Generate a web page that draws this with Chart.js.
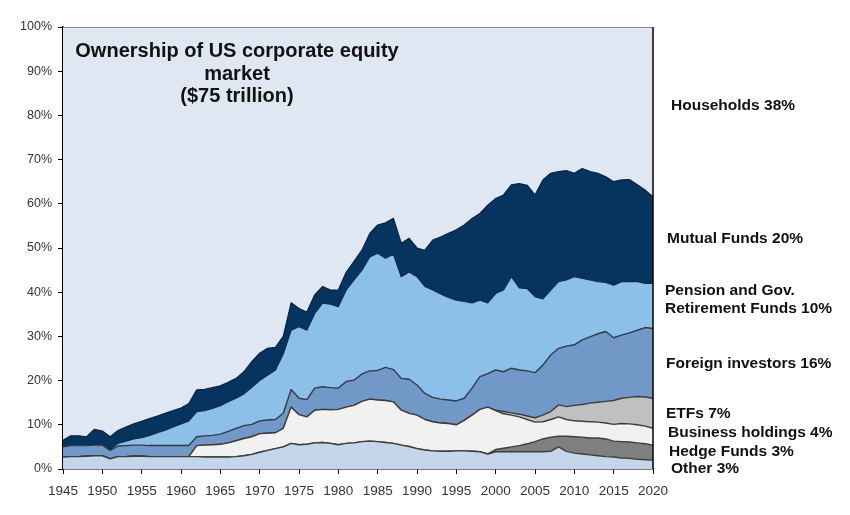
<!DOCTYPE html>
<html>
<head>
<meta charset="utf-8">
<script src="https://cdn.jsdelivr.net/npm/chart.js@4.4.1/dist/chart.umd.min.js"></script>
<style>
  html, body { margin: 0; padding: 0; background: #ffffff; }
  #wrap { width: 850px; height: 515px; position: relative; }
</style>
</head>
<body>
<div id="wrap"><canvas id="c" width="850" height="515"></canvas></div>
<script>
// ---- categories ----
const years = [1945,1946,1947,1948,1949,1950,1951,1952,1953,1954,
  1955,1956,1957,1958,1959,1960,1961,1962,1963,1964,
  1965,1966,1967,1968,1969,1970,1971,1972,1973,1974,
  1975,1976,1977,1978,1979,1980,1981,1982,1983,1984,
  1985,1986,1987,1988,1989,1990,1991,1992,1993,1994,
  1995,1996,1997,1998,1999,2000,2001,2002,2003,2004,
  2005,2006,2007,2008,2009,2010,2011,2012,2013,2014,
  2015,2016,2017,2018,2019,2020];

// ---- series values (% of US corporate equity market), bottom to top ----
const other = [2.7,2.8,2.8,2.9,3.0,3.0,2.3,2.8,2.8,2.9,
  2.9,2.8,2.8,2.8,2.8,2.8,2.8,2.8,2.7,2.7,
  2.7,2.7,2.8,3.0,3.3,3.8,4.2,4.6,5.0,5.8,
  5.5,5.6,5.9,6.0,5.8,5.5,5.8,5.9,6.2,6.3,
  6.2,6.0,5.8,5.4,5.1,4.6,4.3,4.1,4.0,4.0,
  4.1,4.1,4.0,3.9,3.4,3.9,3.9,3.9,3.9,3.9,
  3.9,3.9,4.0,5.0,4.0,3.6,3.4,3.2,3.0,2.8,
  2.7,2.5,2.4,2.2,2.1,2.0];

const hedgeFunds = [0,0,0,0,0,0,0,0,0,0,
  0,0,0,0,0,0,0,0,0,0,
  0,0,0,0,0,0,0,0,0,0,
  0,0,0,0,0,0,0,0,0,0,
  0,0,0,0,0,0,0,0,0,0,
  0,0,0,0,0,0.5,0.8,1.1,1.4,1.8,
  2.3,2.9,3.2,2.4,3.4,3.7,3.8,3.8,4.0,4.0,
  3.6,3.7,3.7,3.7,3.6,3.4];

const businessHoldings = [0,0,0,0,0,0,0,0,0,0,
  0,0,0,0,0,0,0,2.5,2.7,2.8,
  2.9,3.2,3.6,3.9,4.0,4.2,3.9,3.6,4.2,8.2,
  6.8,6.2,7.4,7.5,7.6,8.0,8.2,8.5,9.1,9.5,
  9.4,9.5,9.4,7.9,7.5,7.6,6.9,6.6,6.4,6.3,
  5.9,6.9,8.2,9.6,10.6,8.8,7.8,7.2,6.5,5.5,
  4.4,3.9,4.0,4.4,3.8,3.6,3.6,3.7,3.6,3.6,
  3.8,4.1,4.1,4.1,4.0,3.8];

const etfs = [0,0,0,0,0,0,0,0,0,0,
  0,0,0,0,0,0,0,0,0,0,
  0,0,0,0,0,0,0,0,0,0,
  0,0,0,0,0,0,0,0,0,0,
  0,0,0,0,0,0,0,0,0,0,
  0,0,0,0,0,0.1,0.5,0.5,0.6,0.8,
  1.0,1.5,1.8,2.7,2.9,3.5,3.8,4.2,4.5,4.9,
  5.4,5.7,6.0,6.4,6.6,6.8];

const foreignInvestors = [2.3,2.5,2.5,2.4,2.4,2.4,1.9,2.4,2.5,2.5,
  2.5,2.5,2.5,2.5,2.5,2.5,2.5,2.0,2.1,2.1,
  2.3,2.6,2.8,2.9,2.8,2.9,3.0,3.0,3.4,4.0,
  3.7,3.9,5.0,5.1,5.0,4.8,5.8,5.7,6.2,6.4,
  6.7,7.5,7.3,7.2,7.7,6.8,5.9,5.5,5.4,5.3,
  5.4,5.0,6.1,7.4,7.6,9.1,9.0,10.1,10.0,10.2,
  10.2,11.3,12.8,12.8,13.7,13.7,14.6,15.0,15.5,15.8,
  14.2,14.3,14.6,15.0,15.7,15.8];

const pensionFunds = [0,0,0,0,0,0,0.2,0.6,1.0,1.4,
  1.7,2.3,2.9,3.5,4.2,4.9,5.6,5.7,5.7,6.1,
  6.4,6.7,6.8,7.2,8.4,9.1,10.1,11.2,13.4,13.4,
  16.2,15.7,16.9,18.9,18.9,18.4,20.7,22.7,23.5,25.8,
  26.5,24.7,26.1,23.0,24.3,24.5,24.2,24.3,23.8,23.2,
  22.8,21.9,19.3,17.3,16.0,17.3,18.5,20.7,18.6,18.6,
  17.2,15.0,14.7,15.1,15.0,15.4,13.9,12.9,11.8,11.1,
  11.9,12.1,11.6,11.0,10.0,10.2];

const mutualFunds = [1.5,2.2,2.2,2.0,3.6,3.2,2.9,2.9,3.2,3.4,
  3.7,3.8,3.8,3.8,3.7,3.6,3.9,4.9,4.8,4.7,
  4.5,4.4,4.5,5.0,5.8,6.2,6.1,5.1,4.0,6.2,
  4.1,4.1,4.2,3.8,3.2,3.8,4.0,4.2,4.5,5.3,
  6.4,8.0,8.1,7.6,7.6,6.5,8.2,11.3,12.9,14.5,
  15.9,17.3,19.1,19.6,22.1,21.5,21.5,20.8,23.6,23.4,
  23.0,26.9,26.4,24.9,24.7,23.4,24.9,24.5,24.5,23.9,
  23.4,23.0,23.1,21.9,21.1,19.6];

const households = [93.5,92.5,92.5,92.7,91.0,91.4,92.7,91.3,90.5,89.8,
  89.2,88.6,88.0,87.4,86.8,86.2,85.2,82.1,82.0,81.6,
  81.2,80.4,79.5,78.0,75.7,73.8,72.7,72.5,70.0,62.4,
  63.7,64.5,60.6,58.7,59.5,59.5,55.5,53.0,50.5,46.7,
  44.8,44.3,43.3,48.9,47.8,50.0,50.5,48.2,47.5,46.7,
  45.9,44.8,43.3,42.2,40.3,38.8,38.0,35.7,35.4,35.8,
  38.0,34.6,33.1,32.7,32.5,33.1,32.0,32.7,33.1,33.9,
  35.0,34.6,34.5,35.7,36.9,38.4];

// ---- tick labels / text ----
const yTickValues = [0,10,20,30,40,50,60,70,80,90,100];
const xTickValues = [1945,1950,1955,1960,1965,1970,1975,1980,1985,1990,1995,2000,2005,2010,2015,2020];
const titleLines = ["Ownership of US corporate equity", "market", "($75 trillion)"];
const sideLabels = ["Households 38%", "Mutual Funds 20%", "Pension and Gov.", "Retirement Funds 10%",
  "Foreign investors 16%", "ETFs 7%", "Business holdings 4%", "Hedge Funds 3%", "Other 3%"];

// ---- styling ----
const PLOT_BG = '#dee7f2';
const FONT = '"Liberation Sans", Arial, sans-serif';

function series(arr) { return years.map((yr, i) => ({ x: yr, y: arr[i] })); }

const layers = [
  { label: 'Other', data: other, bg: '#c5d5ea', border: '#3d3d3d', bw: 1.4 },
  { label: 'Hedge Funds', data: hedgeFunds, bg: '#7f7f7f', border: '#3d3d3d', bw: 1.4 },
  { label: 'Business holdings', data: businessHoldings, bg: '#f1f1f2', border: '#3d3d3d', bw: 1.4 },
  { label: 'ETFs', data: etfs, bg: '#c0c0c2', border: '#3d3d3d', bw: 1.4 },
  { label: 'Foreign investors', data: foreignInvestors, bg: '#7298c8', border: '#2f3b4a', bw: 1.4 },
  { label: 'Pension and Gov. Retirement Funds', data: pensionFunds, bg: '#8dc0e8', border: '#0b2a4d', bw: 1.2 },
  { label: 'Mutual Funds', data: mutualFunds, bg: '#07335f', border: '#0a2240', bw: 1.2 },
  { label: 'Households', data: households, bg: PLOT_BG, border: 'rgba(0,0,0,0)', bw: 0 }
];

const datasets = layers.map((l, i) => ({
  label: l.label,
  data: series(l.data),
  backgroundColor: l.bg,
  borderColor: l.border,
  borderWidth: l.bw,
  fill: i === 0 ? 'origin' : '-1',
  pointRadius: 0,
  pointHoverRadius: 0,
  tension: 0
}));

const decorPlugin = {
  id: 'decor',
  beforeDraw(chart) {
    const { ctx, chartArea: a } = chart;
    ctx.save();
    ctx.fillStyle = PLOT_BG;
    ctx.fillRect(a.left, a.top, a.right - a.left, a.bottom - a.top);
    ctx.restore();
  },
  afterDraw(chart) {
    const { ctx, chartArea: a } = chart;
    ctx.save();
    // top border (gray) and right border (black)
    ctx.strokeStyle = '#8a8a8a';
    ctx.lineWidth = 1;
    ctx.beginPath();
    ctx.moveTo(a.left, a.top + 0.5);
    ctx.lineTo(a.right, a.top + 0.5);
    ctx.stroke();
    ctx.strokeStyle = '#000';
    ctx.lineWidth = 1.5;
    ctx.beginPath();
    ctx.moveTo(a.right, a.top);
    ctx.lineTo(a.right, a.bottom);
    ctx.stroke();

    // title inside plot
    ctx.fillStyle = '#111';
    ctx.font = 'bold 20px ' + FONT;
    ctx.textAlign = 'center';
    ctx.textBaseline = 'alphabetic';
    const tb = [57, 79.5, 102];
    titleLines.forEach((t, i) => ctx.fillText(t, 237, tb[i]));

    // side labels
    ctx.font = 'bold 15.5px ' + FONT;
    ctx.textAlign = 'left';
    const pos = [[671,110],[667,243],[665,295],[665,313],[666,368],[666,418],[668,437],[669,456],[671,473]];
    sideLabels.forEach((t, i) => ctx.fillText(t, pos[i][0], pos[i][1]));
    ctx.restore();
  }
};

new Chart(document.getElementById('c'), {
  type: 'line',
  data: { datasets },
  options: {
    responsive: false,
    animation: false,
    devicePixelRatio: 1,
    layout: { padding: { left: 0, right: 197, top: 27, bottom: 0 } },
    plugins: { legend: { display: false }, tooltip: { enabled: false }, title: { display: false } },
    elements: { line: { borderJoinStyle: 'round' } },
    scales: {
      x: {
        type: 'linear',
        min: 1945,
        max: 2020,
        afterFit(s) { s.height = 46; },
        afterBuildTicks(s) { s.ticks = xTickValues.map(v => ({ value: v })); },
        ticks: {
          autoSkip: false, maxRotation: 0, padding: 9,
          color: '#333333', font: { family: FONT, size: 13.5 },
          callback: v => String(v)
        },
        grid: { drawOnChartArea: false, drawTicks: true, tickLength: 5, color: '#000', tickWidth: 1 },
        border: { display: true, color: '#000', width: 1.5 }
      },
      y: {
        stacked: true,
        min: 0,
        max: 100,
        afterFit(s) { s.width = 63; },
        afterBuildTicks(s) { s.ticks = yTickValues.map(v => ({ value: v })); },
        ticks: {
          padding: 6,
          color: '#333333', font: { family: FONT, size: 12.5 },
          callback: v => v + '%'
        },
        grid: { drawOnChartArea: false, drawTicks: true, tickLength: 5, color: '#000', tickWidth: 1 },
        border: { display: true, color: '#000', width: 1.5 }
      }
    }
  },
  plugins: [decorPlugin]
});
</script>
</body>
</html>
